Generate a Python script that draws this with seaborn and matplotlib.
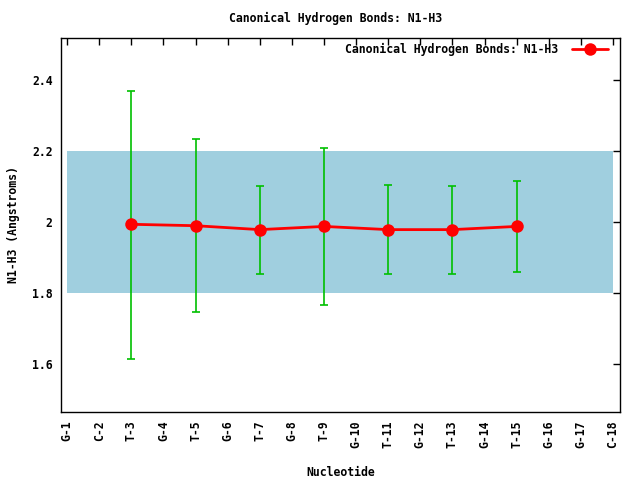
import matplotlib
matplotlib.use("Agg")
import matplotlib.pyplot as plt
import pandas as pd
import numpy as np
import seaborn as sns

# Data
nucleotides = ['G-1', 'C-2', 'T-3', 'G-4', 'T-5', 'G-6', 'T-7', 'G-8', 'T-9',
               'G-10', 'T-11', 'G-12', 'T-13', 'G-14', 'T-15', 'G-16', 'G-17', 'C-18']
measured = ['T-3', 'T-5', 'T-7', 'T-9', 'T-11', 'T-13', 'T-15']
mean_dist = [1.994, 1.990, 1.979, 1.988, 1.979, 1.979, 1.988]
low_dist = [1.614, 1.746, 1.854, 1.766, 1.854, 1.854, 1.859]
high_dist = [2.368, 2.234, 2.101, 2.208, 2.104, 2.101, 2.116]
band_low, band_high = 1.8, 2.2

df = pd.DataFrame({'Nucleotide': measured, 'mean': mean_dist,
                   'low': low_dist, 'high': high_dist})
df['pos'] = [nucleotides.index(n) for n in df['Nucleotide']]

sns.set_style("white")
plt.rcParams['font.family'] = ['DejaVu Sans Mono']
plt.rcParams['font.weight'] = 'bold'
for key in ['text.color', 'axes.labelcolor', 'xtick.color', 'ytick.color']:
    plt.rcParams[key] = 'black'
fs = 8.3

fig = plt.figure(figsize=(6.4, 4.8), dpi=100)
ax = fig.add_axes([61 / 640, 68 / 480, 559 / 640, 374 / 480])

# Reference range band
ax.fill_between([0, len(nucleotides) - 1], band_low, band_high,
                color='#a0cfdf', linewidth=0, zorder=1)

# Error bars
ax.errorbar(df['pos'], df['mean'],
            yerr=[df['mean'] - df['low'], df['high'] - df['mean']],
            fmt='none', ecolor='#00c000', elinewidth=1.2, capsize=3,
            capthick=1.2, zorder=2)

sns.lineplot(data=df, x='pos', y='mean', ax=ax, color='red', linewidth=2,
             marker='o', markersize=9, markeredgewidth=0,
             label='Canonical Hydrogen Bonds: N1-H3', zorder=3)

ax.set_xlim(-0.19, len(nucleotides) - 1 + 0.22)
ax.set_ylim(1.466, 2.518)
ax.set_xticks(range(len(nucleotides)))
ax.set_xticklabels(nucleotides, rotation=90)
ax.set_yticks([1.6, 1.8, 2.0, 2.2, 2.4])
ax.set_yticklabels(['1.6', '1.8', '2', '2.2', '2.4'])
ax.tick_params(direction='in', top=True, right=True, length=5, width=1,
               labelsize=fs, pad=6, colors='black')
for s in ax.spines.values():
    s.set_color('black')
    s.set_linewidth(1)

ax.set_xlabel('Nucleotide', fontsize=fs, fontweight='bold')
ax.xaxis.set_label_coords(0.5, (412 - 466) / 374)
ax.set_ylabel('N1-H3 (Angstroms)', fontsize=fs, fontweight='bold')
ax.yaxis.set_label_coords((20 - 61) / 559, 0.5)
fig.text(336 / 640, 1 - 18 / 480, 'Canonical Hydrogen Bonds: N1-H3', ha='center',
         va='center', fontsize=fs, fontweight='bold')

leg = ax.legend(loc='upper right', bbox_to_anchor=(0.987, 1.0), frameon=False,
                markerfirst=False, handlelength=3.1, handletextpad=1.2,
                fontsize=fs, borderaxespad=0)

fig.savefig('out.png', dpi=100)
